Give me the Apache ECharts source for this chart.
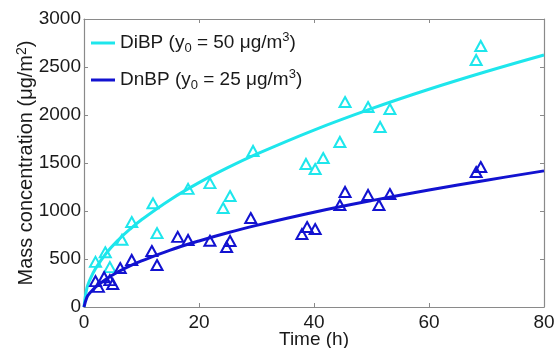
<!DOCTYPE html>
<html><head><meta charset="utf-8">
<script src="https://cdn.jsdelivr.net/npm/echarts@6/dist/echarts.min.js"></script>
<style>html,body{margin:0;padding:0;background:#fff}#c{width:555px;height:348px}</style>
</head><body><div id="c"></div>
<script>
// Fitted curves
const curveTime = [0, 0.5, 1, 2, 4, 6, 8, 10, 15, 20, 25, 30, 40, 50, 60, 70, 80];
const dibpCurve = [0, 197, 281, 400, 570, 701, 811, 909, 1118, 1295, 1451, 1592, 1843, 2066, 2268, 2453, 2625];
const dnbpCurve = [0, 101, 145, 208, 298, 368, 428, 480, 593, 688, 773, 850, 987, 1108, 1219, 1321, 1418];
// Measured points
const dibpTime = [2, 3.7, 4.5, 6.6, 8.3, 12, 12.7, 18.1, 21.9, 24.2, 25.4, 29.4, 38.6, 40.2, 41.6, 44.5, 45.4, 49.4, 51.5, 53.2, 68.2, 69.0];
const dibpVal  = [470, 570, 415, 700, 885, 1080, 770, 1230, 1290, 1031, 1156, 1625, 1490, 1437, 1552, 1719, 2135, 2083, 1875, 2062, 2573, 2719];
const dnbpTime = [2, 2.5, 3.5, 4.5, 5, 6.3, 8.3, 11.8, 12.7, 16.3, 18.1, 21.9, 24.8, 25.4, 29, 37.9, 38.8, 40.2, 44.5, 45.4, 49.4, 51.3, 53.2, 68.2, 69.0];
const dnbpVal  = [270, 210, 310, 280, 240, 406, 490, 583, 437, 730, 698, 690, 625, 688, 927, 760, 833, 812, 1062, 1198, 1167, 1062, 1177, 1406, 1458];
const xTicks = [0, 20, 40, 60, 80];
const yTicks = [0, 500, 1000, 1500, 2000, 2500, 3000];

const CY = '#1ee6ec', BL = '#1212d0';
const FONT = 'Liberation Sans, Arial, sans-serif';
const TXT = '#1a1a1a';
const zip = (a, b) => a.map((v, i) => [v, b[i]]);
const axisCol = '#8a8a8a';

const chart = echarts.init(document.getElementById('c'), null, {renderer: 'canvas'});
const legendRich = {
  t: {fontFamily: FONT, fontSize: 19, color: TXT},
  sub: {fontFamily: FONT, fontSize: 13, color: TXT, verticalAlign: 'bottom', padding: [11, 0, 0, 0]},
  sup: {fontFamily: FONT, fontSize: 13, color: TXT, verticalAlign: 'top', padding: [0, 0, 9, 0]}
};
chart.setOption({
  animation: false,
  backgroundColor: '#fff',
  grid: {left: 84, right: 11, top: 19, bottom: 41, show: false, containLabel: false, outerBoundsMode: 'none'},
  legend: [
    {data: ['DiBP'], left: 91, top: 31, icon: 'rect', itemWidth: 24, itemHeight: 3, itemGap: 3, padding: 0,
     formatter: () => '{t|DiBP (y}{sub|0}{t| = 50 μg/m}{sup|3}{t|)}', textStyle: {rich: legendRich}},
    {data: ['DnBP'], left: 91, top: 68, icon: 'rect', itemWidth: 24, itemHeight: 3, itemGap: 3, padding: 0,
     formatter: () => '{t|DnBP (y}{sub|0}{t| = 25 μg/m}{sup|3}{t|)}', textStyle: {rich: legendRich}}
  ],
  xAxis: [
    {type: 'value', min: 0, max: 80, interval: 20, position: 'bottom',
     name: 'Time (h)', nameLocation: 'middle', nameGap: 23, nameMoveOverlap: false,
     nameTextStyle: {fontFamily: FONT, fontSize: 19, color: TXT},
     axisLine: {show: true, onZero: false, lineStyle: {color: axisCol, width: 1.2}},
     axisTick: {show: true, inside: true, length: 4, lineStyle: {color: axisCol}},
     axisLabel: {fontFamily: FONT, fontSize: 19, color: TXT, margin: 6,
       formatter: v => xTicks.includes(v) ? String(v) : ''},
     splitLine: {show: false}},
    {type: 'value', min: 0, max: 80, interval: 20, position: 'top',
     axisLine: {show: true, onZero: false, lineStyle: {color: axisCol, width: 1.2}},
     axisTick: {show: true, inside: true, length: 4, lineStyle: {color: axisCol}},
     axisLabel: {show: false}, splitLine: {show: false}}
  ],
  yAxis: [
    {type: 'value', min: 0, max: 3000, interval: 500, position: 'left',
     name: '{t|Mass concentration (μg/m}{sup|2}{t|)}', nameLocation: 'middle', nameGap: 46, nameMoveOverlap: false,
     nameTextStyle: {fontFamily: FONT, fontSize: 20, color: TXT,
       rich: {t: {fontFamily: FONT, fontSize: 20, color: TXT},
              sup: {fontFamily: FONT, fontSize: 14, color: TXT, verticalAlign: 'top', padding: [0, 0, 9, 0]}}},
     axisLine: {show: true, onZero: false, lineStyle: {color: axisCol, width: 1.2}},
     axisTick: {show: true, inside: true, length: 4, lineStyle: {color: axisCol}},
     axisLabel: {fontFamily: FONT, fontSize: 19, color: TXT, margin: 3,
       formatter: v => yTicks.includes(v) ? String(v) : ''},
     splitLine: {show: false}},
    {type: 'value', min: 0, max: 3000, interval: 500, position: 'right',
     axisLine: {show: true, onZero: false, lineStyle: {color: axisCol, width: 1.2}},
     axisTick: {show: true, inside: true, length: 4, lineStyle: {color: axisCol}},
     axisLabel: {show: false}, splitLine: {show: false}}
  ],
  series: [
    {name: 'DiBP', type: 'line', data: zip(curveTime, dibpCurve), smooth: 0.4, showSymbol: false,
     lineStyle: {color: CY, width: 3}, itemStyle: {color: CY}, z: 2},
    {name: 'DnBP', type: 'line', data: zip(curveTime, dnbpCurve), smooth: 0.4, showSymbol: false,
     lineStyle: {color: BL, width: 3}, itemStyle: {color: BL}, z: 2},
    {name: 'DiBP data', type: 'scatter', data: zip(dibpTime, dibpVal), symbol: 'triangle', symbolSize: [11, 10],
     itemStyle: {color: 'rgba(255,255,255,0)', borderColor: CY, borderWidth: 2, opacity: 1}, z: 3},
    {name: 'DnBP data', type: 'scatter', data: zip(dnbpTime, dnbpVal), symbol: 'triangle', symbolSize: [11, 10],
     itemStyle: {color: 'rgba(255,255,255,0)', borderColor: BL, borderWidth: 2, opacity: 1}, z: 3}
  ]
});
</script></body></html>
